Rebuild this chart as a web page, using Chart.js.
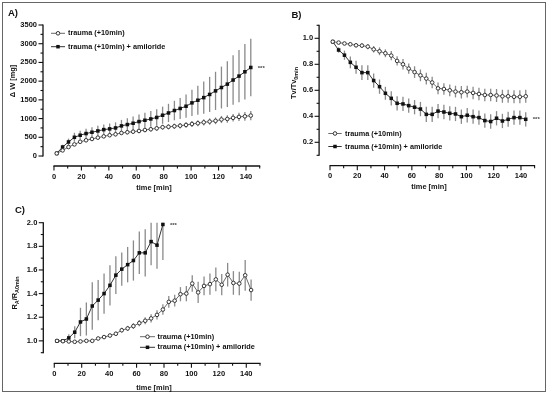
<!DOCTYPE html>
<html>
<head>
<meta charset="utf-8">
<script src="https://cdn.jsdelivr.net/npm/chart.js@4.4.1/dist/chart.umd.min.js"></script>
<style>
html,body{margin:0;padding:0;background:#fff}
#wrap{position:relative;width:550px;height:396px;overflow:hidden}
#frame{position:absolute;left:2px;top:2px;width:542px;height:388px;border:1.5px solid #666}
canvas{position:absolute}
</style>
</head>
<body>
<div id="wrap">
  <div id="frame"></div>
  <canvas id="cA" width="275" height="196" style="left:0;top:0"></canvas>
  <canvas id="cB" width="275" height="196" style="left:275px;top:0"></canvas>
  <canvas id="cC" width="275" height="198" style="left:0;top:196px"></canvas>
</div>
<script>
// sampling times [min], shared by all three panels
const TIMES = [2.0, 6.3, 10.6, 14.9, 19.1, 23.4, 27.7, 32.0, 36.3, 40.6, 44.9, 49.2, 53.5, 57.7, 62.0, 66.3, 70.6,
               74.9, 79.2, 83.5, 87.8, 92.0, 96.3, 100.6, 104.9, 109.2, 113.5, 117.8, 122.1, 126.4, 130.6, 134.9, 139.2, 143.5];
const SERIES_NAMES = ['trauma (+10min)', 'trauma (+10min) + amiloride'];

// A) weight gain [mg]
const A_TRAUMA     = [70,150,240,310,380,420,455,490,525,555,580,615,635,650,670,695,715,740,770,780,795,810,830,855,875,900,920,940,975,990,1020,1045,1060,1080];
const A_TRAUMA_SEM = [15,25,30,35,35,40,40,45,45,50,50,50,55,55,60,60,60,65,65,70,70,75,75,80,80,85,85,90,95,100,100,110,115,125];
const A_AMIL       = [70,240,375,500,555,600,635,670,705,725,750,805,840,875,920,955,990,1030,1090,1150,1215,1270,1330,1420,1490,1560,1645,1740,1830,1920,2030,2135,2250,2365];
const A_AMIL_SEM   = [20,60,90,120,120,125,130,135,140,145,150,160,170,180,190,200,210,220,230,245,260,280,310,350,390,430,470,510,560,610,660,700,740,770];

// B) tidal volume ratio
const B_TRAUMA     = [0.974,0.967,0.96,0.954,0.946,0.944,0.936,0.915,0.90,0.885,0.867,0.826,0.80,0.767,0.74,0.715,0.69,0.66,0.615,0.61,0.60,0.59,0.585,0.59,0.58,0.572,0.564,0.564,0.56,0.554,0.554,0.55,0.55,0.554];
const B_TRAUMA_SEM = [0.01,0.01,0.01,0.012,0.015,0.018,0.02,0.025,0.03,0.03,0.035,0.035,0.04,0.04,0.045,0.045,0.045,0.045,0.045,0.045,0.045,0.045,0.048,0.045,0.048,0.048,0.048,0.048,0.05,0.05,0.05,0.05,0.05,0.05];
const B_AMIL       = [0.974,0.91,0.87,0.815,0.777,0.736,0.736,0.675,0.628,0.577,0.538,0.50,0.495,0.482,0.47,0.456,0.415,0.415,0.44,0.433,0.423,0.418,0.397,0.408,0.397,0.39,0.367,0.36,0.385,0.364,0.377,0.39,0.39,0.377];
const B_AMIL_SEM   = [0.01,0.02,0.035,0.045,0.05,0.057,0.057,0.055,0.055,0.05,0.055,0.055,0.055,0.055,0.055,0.055,0.058,0.058,0.055,0.055,0.055,0.055,0.055,0.055,0.055,0.055,0.055,0.055,0.055,0.055,0.058,0.055,0.055,0.055];

// C) airway resistance ratio
const C_TRAUMA     = [1.0,0.997,0.995,0.992,0.995,1.0,1.0,1.02,1.032,1.045,1.06,1.09,1.105,1.125,1.15,1.17,1.19,1.22,1.265,1.33,1.34,1.395,1.40,1.485,1.41,1.465,1.48,1.52,1.475,1.56,1.49,1.485,1.555,1.43];
const C_TRAUMA_SEM = [0.005,0.005,0.005,0.005,0.005,0.007,0.008,0.01,0.012,0.015,0.017,0.02,0.022,0.025,0.027,0.03,0.035,0.04,0.045,0.05,0.05,0.06,0.065,0.07,0.09,0.08,0.09,0.1,0.09,0.1,0.1,0.1,0.13,0.09];
const C_AMIL       = [1.0,1.0,1.025,1.073,1.16,1.185,1.295,1.345,1.40,1.47,1.556,1.607,1.645,1.68,1.745,1.745,1.84,1.81,1.985];
const C_AMIL_SEM   = [0.005,0.01,0.03,0.05,0.12,0.14,0.2,0.17,0.17,0.17,0.16,0.14,0.15,0.17,0.18,0.2,0.2,0.2,0.3];

// tick values (major = labelled)
const X_TICKS   = [0,10,20,30,40,50,60,70,80,90,100,110,120,130,140,150];
const X_LABELS  = [0,20,40,60,80,100,120,140];
const A_Y_TICKS = [0,250,500,750,1000,1250,1500,1750,2000,2250,2500,2750,3000,3250,3500];
const A_Y_LABELS= [0,500,1000,1500,2000,2500,3000,3500];
const B_Y_TICKS = [0.1,0.2,0.3,0.4,0.5,0.6,0.7,0.8,0.9,1.0,1.1];
const B_Y_LABELS= [0.2,0.4,0.6,0.8,1.0];
const C_Y_TICKS = [0.9,1.0,1.1,1.2,1.3,1.4,1.5,1.6,1.7,1.8,1.9,2.0];
const C_Y_LABELS= [1.0,1.2,1.4,1.6,1.8,2.0];

const FONT = "'Liberation Sans', Arial, sans-serif";

function pts(ys){ return ys.map((y,i)=>({x: TIMES[i], y: y})); }
function has(list, v){ return list.some(l=>Math.abs(l-v) < 1e-6); }

function line(ctx, x1, y1, x2, y2){ ctx.beginPath(); ctx.moveTo(x1,y1); ctx.lineTo(x2,y2); ctx.stroke(); }

function marker(ctx, kind, x, y){
    if(kind === 'circle'){
        ctx.beginPath(); ctx.arc(x, y, 1.8, 0, Math.PI*2);
        ctx.fillStyle = '#fff'; ctx.fill();
        ctx.strokeStyle = '#333'; ctx.lineWidth = 1; ctx.stroke();
    } else {
        ctx.fillStyle = '#111'; ctx.fillRect(x-1.75, y-1.75, 3.5, 3.5);
    }
}

// text made of pieces, some as subscripts; rotated for y titles
function drawParts(ctx, parts, cx, cy, rotate){
    ctx.save();
    ctx.translate(cx, cy);
    if(rotate) ctx.rotate(-Math.PI/2);
    const big = 'bold 7.4px ' + FONT, small = 'bold 5.4px ' + FONT;
    let w = 0;
    parts.forEach(p=>{ ctx.font = p.sub ? small : big; w += ctx.measureText(p.t).width; });
    let x = -w/2;
    ctx.fillStyle = '#111'; ctx.textBaseline = 'middle'; ctx.textAlign = 'left';
    parts.forEach(p=>{
        ctx.font = p.sub ? small : big;
        ctx.fillText(p.t, x, p.sub ? 2.2 : 0);
        x += ctx.measureText(p.t).width;
    });
    ctx.restore();
}

function makePlugin(cfg){
    return {
        id: 'prism',
        beforeDatasetsDraw(chart){
            const ctx = chart.ctx, xs = chart.scales.x, ys = chart.scales.y;
            ctx.save();
            ctx.strokeStyle = '#8a8a8a'; ctx.lineWidth = 1.3;
            chart.data.datasets.forEach(ds=>{
                ds.data.forEach((p,i)=>{
                    const e = ds.errs[i];
                    const hi = Math.min(p.y + e, ys.max), lo = Math.max(p.y - e, ys.min);
                    const px = xs.getPixelForValue(p.x);
                    line(ctx, px, ys.getPixelForValue(hi), px, ys.getPixelForValue(lo));
                });
            });
            ctx.restore();
        },
        afterDraw(chart){
            const ctx = chart.ctx, xs = chart.scales.x, ys = chart.scales.y, a = chart.chartArea;
            ctx.save();
            ctx.strokeStyle = '#111'; ctx.lineWidth = 1.3;
            // y axis
            const yt = cfg.yTicks;
            line(ctx, a.left, ys.getPixelForValue(yt[yt.length-1]) - 0.5, a.left, ys.getPixelForValue(yt[0]) + 0.5);
            ctx.lineWidth = 1.1;
            yt.forEach(v=>{
                const p = ys.getPixelForValue(v), L = has(cfg.yLabels, v) ? 4.5 : 2.5;
                line(ctx, a.left - L, p, a.left, p);
            });
            // x axis, detached below the plot
            ctx.lineWidth = 1.3;
            line(ctx, xs.getPixelForValue(X_TICKS[0]) - 0.5, a.bottom, xs.getPixelForValue(X_TICKS[X_TICKS.length-1]) + 0.5, a.bottom);
            ctx.lineWidth = 1.1;
            X_TICKS.forEach(v=>{
                const p = xs.getPixelForValue(v), L = has(X_LABELS, v) ? 4.5 : 2.5;
                line(ctx, p, a.bottom, p, a.bottom + L);
            });

            // panel letter
            ctx.fillStyle = '#111'; ctx.textAlign = 'left'; ctx.textBaseline = 'middle';
            ctx.font = 'bold 9.5px ' + FONT;
            ctx.fillText(cfg.letter.t, cfg.letter.x, cfg.letter.y);

            // axis titles
            drawParts(ctx, [{t: 'time [min]'}], cfg.xTitle.x, cfg.xTitle.y, false);
            drawParts(ctx, cfg.yTitle.parts, cfg.yTitle.x, cfg.yTitle.y, true);

            // legend
            const lg = cfg.legend;
            ['circle','rect'].forEach((k,i)=>{
                const y = lg.y[i];
                ctx.strokeStyle = i ? '#333' : '#6a6a6a'; ctx.lineWidth = 1;
                line(ctx, lg.x1, y, lg.x2, y);
                marker(ctx, k, (lg.x1 + lg.x2)/2, y);
                ctx.fillStyle = '#111'; ctx.font = 'bold 7.3px ' + FONT;
                ctx.textAlign = 'left'; ctx.textBaseline = 'middle';
                ctx.fillText(SERIES_NAMES[i], lg.tx, y);
            });

            // significance mark next to the last amiloride point
            const amil = chart.data.datasets[1].data;
            const last = amil[amil.length-1];
            ctx.fillStyle = '#444'; ctx.font = 'bold 6px ' + FONT;
            ctx.fillText('***', xs.getPixelForValue(last.x) + 7, ys.getPixelForValue(last.y) + 0.5);
            ctx.restore();
        }
    };
}

function makePanel(id, cfg){
    const cv = document.getElementById(id);
    const W = cv.width, H = cv.height, area = cfg.area;
    return new Chart(cv, {
        type: 'line',
        data: {
            datasets: [
                { label: SERIES_NAMES[0], data: pts(cfg.trauma), errs: cfg.traumaSem,
                  borderColor: '#6a6a6a', borderWidth: 1, tension: 0, clip: false,
                  pointStyle: 'circle', pointRadius: 1.8, pointBackgroundColor: '#fff',
                  pointBorderColor: '#333', pointBorderWidth: 1 },
                { label: SERIES_NAMES[1], data: pts(cfg.amil), errs: cfg.amilSem,
                  borderColor: '#333', borderWidth: 1, tension: 0, clip: false,
                  pointStyle: 'rect', pointRadius: 2.5, pointBackgroundColor: '#111',
                  pointBorderColor: '#111', pointBorderWidth: 0 }
            ]
        },
        options: {
            responsive: false, animation: false, devicePixelRatio: 1,
            layout: { padding: { left: 0, top: area.top, right: W - area.right, bottom: 0 } },
            plugins: { legend: { display: false }, tooltip: { enabled: false } },
            scales: {
                x: {
                    type: 'linear', min: -8, max: 150,
                    grid: { display: false, drawTicks: false }, border: { display: false },
                    afterBuildTicks: s=>{ s.ticks = X_TICKS.map(v=>({value: v})); },
                    afterFit: s=>{ s.height = H - area.bottom; },
                    ticks: { autoSkip: false, maxRotation: 0, padding: 6, color: '#111',
                             font: { family: FONT, size: 7.5, weight: 'bold' },
                             callback: v=> has(X_LABELS, v) ? String(v) : '' }
                },
                y: {
                    type: 'linear', min: cfg.yMin, max: cfg.yMax,
                    grid: { display: false, drawTicks: false }, border: { display: false },
                    afterBuildTicks: s=>{ s.ticks = cfg.yTicks.map(v=>({value: v})); },
                    afterFit: s=>{ s.width = area.left; },
                    ticks: { autoSkip: false, padding: 6, color: '#111',
                             font: { family: FONT, size: 7.5, weight: 'bold' },
                             callback: v=> has(cfg.yLabels, v) ? v.toFixed(cfg.yDec) : '' }
                }
            }
        },
        plugins: [makePlugin(cfg)]
    });
}

makePanel('cA', {
    area: { left: 43, top: 25, right: 259.7, bottom: 166 },
    yMin: -267, yMax: 3500, yTicks: A_Y_TICKS, yLabels: A_Y_LABELS, yDec: 0,
    trauma: A_TRAUMA, traumaSem: A_TRAUMA_SEM, amil: A_AMIL, amilSem: A_AMIL_SEM,
    letter: { t: 'A)', x: 8, y: 13.5 },
    xTitle: { x: 154, y: 188 },
    yTitle: { x: 12.7, y: 81, parts: [{t: '\u0394 W [mg]'}] },
    legend: { x1: 51, x2: 65, tx: 68, y: [33.3, 46.7] }
});

makePanel('cB', {
    area: { left: 44.1, top: 25.3, right: 259.6, bottom: 165.7 },
    yMin: 0.02, yMax: 1.1, yTicks: B_Y_TICKS, yLabels: B_Y_LABELS, yDec: 1,
    trauma: B_TRAUMA, traumaSem: B_TRAUMA_SEM, amil: B_AMIL, amilSem: B_AMIL_SEM,
    letter: { t: 'B)', x: 16.5, y: 15 },
    xTitle: { x: 154, y: 187 },
    yTitle: { x: 19, y: 83, parts: [{t: 'Tv/Tv'}, {t: '0min', sub: true}] },
    legend: { x1: 53.3, x2: 66.7, tx: 70, y: [133.5, 146.5] }
});

makePanel('cC', {
    area: { left: 43.3, top: 26.7, right: 260, bottom: 167.3 },
    yMin: 0.81, yMax: 2.0, yTicks: C_Y_TICKS, yLabels: C_Y_LABELS, yDec: 1,
    trauma: C_TRAUMA, traumaSem: C_TRAUMA_SEM, amil: C_AMIL, amilSem: C_AMIL_SEM,
    letter: { t: 'C)', x: 15, y: 14 },
    xTitle: { x: 154, y: 191.5 },
    yTitle: { x: 15, y: 97, parts: [{t: 'R'}, {t: 'A', sub: true}, {t: '/R'}, {t: 'A0min', sub: true}] },
    legend: { x1: 140, x2: 155, tx: 157.5, y: [140.7, 151.3] }
});
</script>
</body>
</html>
